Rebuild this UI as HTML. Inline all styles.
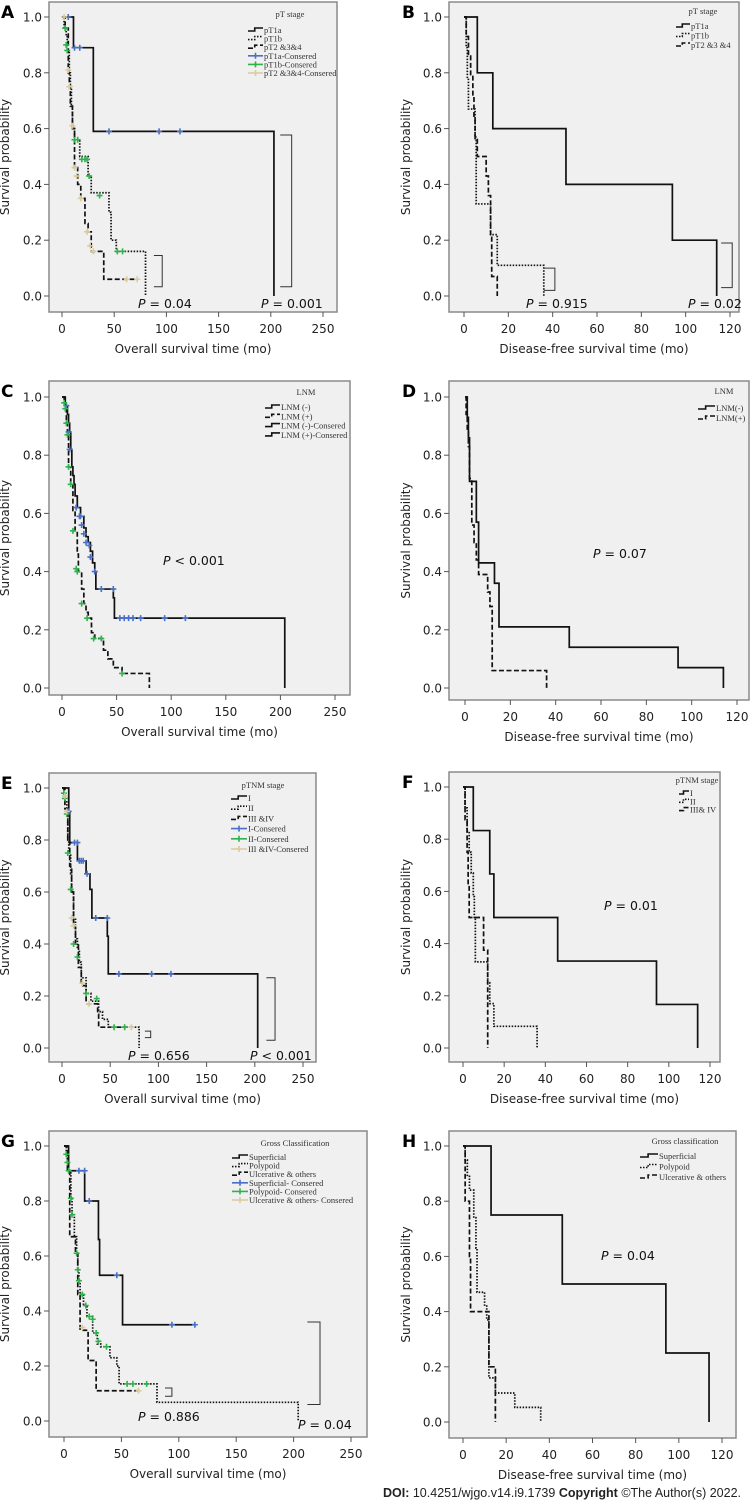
<!DOCTYPE html>
<html><head><meta charset="utf-8"><style>
html,body{margin:0;padding:0;background:#fff;}
svg{display:block;font-family:"DejaVu Sans","Liberation Sans",sans-serif;}
.lg{font-family:"Liberation Serif",serif;font-size:8.5px;fill:#333;}
</style></head><body>
<svg id="fig" width="753" height="1500" viewBox="0 0 753 1500" xmlns="http://www.w3.org/2000/svg"></svg>
<script>
// ---------- data ----------
const xTicksOS = [0,50,100,150,200,250];
const xTicksDFS = [0,20,40,60,80,100,120];
const yTicks = [0,0.2,0.4,0.6,0.8,1.0];

const A_pT1a = [[0,1],[11,0.89],[30,0.59],[203,0]];
const A_pT1b = [[0,1],[2,0.96],[4,0.93],[5,0.88],[7,0.80],[8,0.75],[9,0.68],[10,0.60],[12,0.56],[17,0.50],[25,0.43],[28,0.37],[45,0.30],[47,0.20],[52,0.16],[80,0]];
const A_pT2 = [[0,1],[3,0.96],[6,0.80],[7,0.75],[8,0.68],[10,0.60],[12,0.46],[15,0.40],[18,0.35],[22,0.26],[25,0.23],[28,0.16],[38,0.16],[40,0.06],[72,0.06]];
const A_cens1 = [[6,1],[12,0.89],[17,0.89],[45,0.59],[93,0.59],[113,0.59]];
const A_cens2 = [[3,0.96],[4,0.90],[5,0.88],[12,0.56],[15,0.56],[19,0.49],[22,0.49],[24,0.49],[26,0.43],[36,0.36],[53,0.16],[58,0.16]];
const A_cens3 = [[2,1],[6,0.81],[7,0.75],[10,0.61],[12,0.46],[14,0.43],[18,0.35],[24,0.23],[27,0.18],[30,0.16],[62,0.06],[72,0.06]];

const B_pT1a = [[0,1],[6,0.8],[13,0.6],[46,0.4],[94,0.2],[114,0]];
const B_pT1b = [[0,1],[1,0.89],[1.5,0.78],[2,0.67],[5,0.56],[5.5,0.33],[12,0.22],[15,0.11],[36,0]];
const B_pT2 = [[0,1],[1,0.93],[2,0.86],[3,0.79],[4,0.71],[4.5,0.64],[5,0.57],[6,0.5],[10,0.43],[11,0.36],[12,0.21],[12.5,0.07],[15,0]];

const C_neg = [[0,1],[3,0.97],[5,0.94],[6,0.91],[7,0.88],[8,0.82],[9,0.76],[10,0.73],[11,0.70],[12,0.66],[14,0.62],[17,0.59],[20,0.55],[22,0.52],[24,0.50],[26,0.47],[28,0.43],[30,0.40],[31,0.34],[47,0.31],[48,0.24],[204,0]];
const C_pos = [[0,1],[2,0.98],[3,0.96],[4,0.91],[5,0.87],[6,0.76],[8,0.70],[10,0.61],[12,0.54],[14,0.46],[15,0.40],[18,0.34],[20,0.29],[22,0.26],[24,0.24],[27,0.19],[30,0.17],[38,0.13],[42,0.10],[47,0.07],[55,0.05],[80,0]];
const C_censNeg = [[4,0.97],[6,0.88],[7,0.82],[13,0.62],[16,0.59],[17,0.59],[18,0.56],[20,0.53],[22,0.50],[25,0.49],[26,0.45],[30,0.40],[36,0.34],[47,0.34],[53,0.24],[57,0.24],[61,0.24],[65,0.24],[72,0.24],[94,0.24],[113,0.24]];
const C_censPos = [[2,0.98],[3,0.96],[4,0.91],[5,0.87],[6,0.76],[8,0.70],[10,0.54],[13,0.41],[14,0.40],[18,0.29],[23,0.24],[29,0.17],[36,0.17],[55,0.05]];

const D_neg = [[0,1],[1,0.93],[1.5,0.86],[2,0.71],[5,0.57],[6,0.43],[13,0.36],[15,0.21],[46,0.14],[94,0.07],[114,0]];
const D_pos = [[0,1],[0.5,0.94],[1,0.89],[1.5,0.83],[2,0.72],[3,0.56],[4,0.50],[5,0.44],[6,0.39],[10,0.33],[11,0.28],[12,0.06],[36,0]];

const E_I = [[0,1],[7,0.91],[8,0.79],[16,0.72],[25,0.67],[29,0.61],[31,0.50],[47,0.43],[48,0.285],[203,0]];
const E_II = [[0,1],[2,0.97],[3,0.95],[5,0.90],[6,0.80],[7,0.75],[9,0.67],[10,0.60],[12,0.50],[14,0.42],[16,0.38],[18,0.33],[20,0.27],[25,0.21],[30,0.18],[38,0.14],[42,0.11],[48,0.08],[80,0]];
const E_III = [[0,1],[3,0.92],[6,0.80],[8,0.70],[10,0.60],[12,0.47],[14,0.40],[17,0.31],[20,0.24],[25,0.17],[37,0.13],[38,0.08],[72,0.08]];
const E_censI = [[7,0.91],[13,0.79],[16,0.79],[18,0.72],[20,0.72],[22,0.72],[26,0.67],[35,0.50],[47,0.50],[59,0.285],[93,0.285],[113,0.285]];
const E_censII = [[2,0.98],[3,0.96],[5,0.90],[6,0.75],[9,0.61],[12,0.40],[16,0.35],[25,0.21],[36,0.19],[54,0.08],[65,0.08]];
const E_censIII = [[3,0.97],[5,0.91],[10,0.50],[12,0.47],[21,0.25],[28,0.17],[72,0.08]];

const F_I = [[0,1],[5,0.833],[13,0.667],[15,0.5],[46,0.333],[94,0.167],[114,0]];
const F_II = [[0,1],[1,0.92],[2,0.83],[3,0.75],[4,0.67],[5,0.58],[5.5,0.5],[6,0.33],[12,0.25],[13,0.17],[15,0.083],[36,0]];
const F_III = [[0,1],[1,0.875],[2,0.75],[2.5,0.625],[3,0.5],[10,0.375],[12,0]];

const G_sup = [[0,1],[4,0.91],[18,0.80],[30,0.66],[31,0.53],[51,0.35],[114,0.35]];
const G_pol = [[0,1],[2,0.97],[3,0.94],[4,0.91],[6,0.81],[7,0.75],[9,0.67],[11,0.61],[12,0.55],[13,0.51],[14,0.46],[17,0.42],[20,0.38],[25,0.32],[29,0.28],[32,0.27],[40,0.23],[46,0.20],[48,0.135],[81,0.068],[204,0]];
const G_ulc = [[0,1],[3,0.91],[5,0.67],[10,0.61],[12,0.46],[14,0.33],[20,0.33],[21,0.22],[28,0.11],[65,0.11]];
const G_censSup = [[13,0.91],[18,0.91],[22,0.80],[46,0.53],[94,0.35],[114,0.35]];
const G_censPol = [[2,0.97],[3,0.94],[4,0.91],[6,0.81],[7,0.75],[11,0.61],[12,0.55],[13,0.51],[16,0.46],[19,0.42],[22,0.38],[25,0.37],[28,0.32],[30,0.29],[37,0.27],[55,0.135],[60,0.135],[72,0.135]];
const G_censUlc = [[16,0.34],[65,0.11]];

const H_sup = [[0,1],[13,0.75],[46,0.5],[94,0.25],[114,0]];
const H_pol = [[0,1],[1,0.95],[2,0.89],[3,0.84],[5,0.74],[6,0.63],[6.5,0.47],[10,0.42],[11,0.37],[12,0.16],[15,0.105],[24,0.053],[36,0]];
const H_ulc = [[0,1],[1,0.8],[3,0.6],[3.5,0.4],[12,0.2],[15,0]];

// ---------- drawing ----------
const svg = document.getElementById('fig');
const NS = 'http://www.w3.org/2000/svg';
function mk(tag, attrs, parent){
  const e = document.createElementNS(NS, tag);
  for (const k in attrs) e.setAttribute(k, attrs[k]);
  (parent||svg).appendChild(e);
  return e;
}
const STY = {solid:'', dot:'1.5,1.5', dash:'5,2.5'};
const COL = {blue:'#4a6fc4', green:'#2fb24c', tan:'#d9cb9c'};
const FS = 12;

function panel(p){
  const g = mk('g', {});
  
  
  const xs = v => p.x0 + (p.x1 - p.x0) * v / p.xmax;
  const ys = v => p.y0 + (p.y1 - p.y0) * v;
  const fr = mk('rect', {x:p.fx1, y:p.fy1, width:p.fx2-p.fx1, height:p.fy2-p.fy1, fill:'#f0f0f0', stroke:'#8a8a8a', 'stroke-width':1.5}, g);
  
  
  const L = mk('text', {x:p.lx, y:p.fy1+16, 'font-size':17, 'font-weight':'bold', fill:'#000'}, g);
  L.textContent = p.id;
  
  
  yTicks.forEach(t => {
    mk('line', {x1:p.fx1-5, x2:p.fx1, y1:ys(t), y2:ys(t), stroke:'#555', 'stroke-width':1}, g);
    const tx = mk('text', {x:p.fx1-7, y:ys(t)+4.5, 'font-size':FS, 'text-anchor':'end', fill:'#222'}, g);
    tx.textContent = t.toFixed(1);
    
    
  });
  p.xt.forEach(t => {
    mk('line', {x1:xs(t), x2:xs(t), y1:p.fy2, y2:p.fy2+5, stroke:'#555', 'stroke-width':1}, g);
    const tx = mk('text', {x:xs(t), y:p.fy2+21, 'font-size':FS, 'text-anchor':'middle', fill:'#222'}, g);
    tx.textContent = t;
    
    
  });
  const xt = mk('text', {x:(p.fx1+p.fx2)/2, y:p.fy2+41, 'font-size':FS, 'text-anchor':'middle', fill:'#222'}, g);
  xt.textContent = p.xtitle;
  
  
  const cy = (p.fy1+p.fy2)/2;
  const yt = mk('text', {x:p.ytx, y:cy, 'font-size':FS, 'text-anchor':'middle', fill:'#222', transform:`rotate(-90 ${p.ytx} ${cy})`}, g);
  yt.textContent = 'Survival probability';
  
  
  p.curves.forEach(c => {
    let d = `M${xs(c.d[0][0])},${ys(c.d[0][1])}`;
    for (let i=1;i<c.d.length;i++){ d += ` H${xs(c.d[i][0])} V${ys(c.d[i][1])}`; }
    const path = mk('path', {d, fill:'none', stroke:'#111', 'stroke-width':1.7, 'stroke-dasharray':STY[c.s]}, g);
    
    
  });
  (p.cens||[]).forEach(c => {
    c.d.forEach(pt => {
      const X = xs(pt[0]), Y = ys(pt[1]);
      const m = mk('path', {d:`M${X-3},${Y} H${X+3} M${X},${Y-3} V${Y+3}`, stroke:COL[c.c], 'stroke-width':1.6}, g);
      
      
    });
  });
  (p.br||[]).forEach(b => {
    const x1 = xs(b[0]), x2 = xs(b[1]);
    const br = mk('path', {d:`M${x1},${ys(b[2])} H${x2} V${ys(b[3])} H${x1}`, fill:'none', stroke:'#333', 'stroke-width':1}, g);
    
    
  });
  (p.pv||[]).forEach(v => {
    const t = mk('text', {x:v[0], y:v[1], 'font-size':12.5, fill:'#111'}, g);
    const i = mk('tspan', {'font-style':'italic'}, t); i.textContent = 'P';
    const r = mk('tspan', {}, t); r.textContent = v[2];
    
    
  });
  const lg = mk('g', {}, g);
  
  
  const lt = mk('text', {x:p.leg.tx, y:p.leg.ty, class:'lg', 'text-anchor':'middle', 'font-size':p.leg.tfs||8.5}, lg);
  lt.textContent = p.leg.title;
  
  
  p.leg.items.forEach((it,k) => {
    const y = p.leg.y0 + k*p.leg.dy;
    const ix = p.leg.ix, w = p.leg.iw;
    const e = mk('g', {}, lg);
    
    
    if (it.c) {
      mk('path', {d:`M${ix},${y} H${ix+w} M${ix+w/2},${y-3} V${y+3}`, stroke:COL[it.c], 'stroke-width':1.6}, e);
    } else {
      mk('path', {d:`M${ix},${y+1} H${ix+w*0.45} V${y-2} H${ix+w}`, fill:'none', stroke:'#111', 'stroke-width':1.6, 'stroke-dasharray':STY[it.s]}, e);
    }
    const t = mk('text', {x:ix+w+1, y:y+3, class:'lg'}, e);
    t.textContent = it.t;
  });
}

const OS = 'Overall survival time (mo)', DFS = 'Disease-free survival time (mo)';
const pTleg = [{s:'solid',t:'pT1a'},{s:'dot',t:'pT1b'},{s:'dash',t:'pT2 &3&4'},{c:'blue',t:'pT1a-Consered'},{c:'green',t:'pT1b-Consered'},{c:'tan',t:'pT2 &3&4-Consered'}];

panel({id:'A', fx1:49,fy1:2,fx2:337,fy2:312, x0:62,x1:323,xmax:250, y1:17,y0:296, xt:xTicksOS, xtitle:OS, lx:1, ytx:9,
  curves:[{n:'pt1a',s:'solid',d:A_pT1a},{n:'pt1b',s:'dot',d:A_pT1b},{n:'pt2-3-4',s:'dash',d:A_pT2}],
  cens:[{c:'blue',d:A_cens1},{c:'green',d:A_cens2},{c:'tan',d:A_cens3}],
  br:[[88,96,0.145,0.033],[209,220,0.577,0.033]],
  pv:[[138,308,' = 0.04'],[261,308,' = 0.001']],
  leg:{title:'pT stage', tx:290, ty:17, tfs:9.5, y0:30, dy:8.6, ix:248, iw:15, items:pTleg}});

panel({id:'B', fx1:449,fy1:2,fx2:739,fy2:312, x0:464,x1:730,xmax:120, y1:17,y0:296, xt:xTicksDFS, xtitle:DFS, lx:402, ytx:410,
  curves:[{n:'pt1a',s:'solid',d:B_pT1a},{n:'pt1b',s:'dot',d:B_pT1b},{n:'pt2-3-4',s:'dash',d:B_pT2}],
  br:[[36,41,0.10,0.02],[116,121,0.19,0.03]],
  pv:[[526,308,' = 0.915'],[688,308,' = 0.02']],
  leg:{title:'pT stage', tx:703, ty:14, y0:26, dy:9.5, ix:676, iw:14, items:[{s:'solid',t:'pT1a'},{s:'dot',t:'pT1b'},{s:'dash',t:'pT2 &3 &4'}]}});

panel({id:'C', fx1:49,fy1:381,fx2:350,fy2:695, x0:62,x1:335,xmax:250, y1:397,y0:688, xt:xTicksOS, xtitle:OS, lx:1, ytx:9,
  curves:[{n:'lnm-negative',s:'solid',d:C_neg},{n:'lnm-positive',s:'dash',d:C_pos}],
  cens:[{c:'blue',d:C_censNeg},{c:'green',d:C_censPos}],
  pv:[[163,565,' < 0.001']],
  leg:{title:'LNM', tx:306, ty:395, tfs:9.5, y0:407, dy:9.3, ix:265, iw:15, items:[{s:'solid',t:'LNM (-)'},{s:'dash',t:'LNM (+)'},{s:'solid',t:'LNM (-)-Consered'},{s:'solid',t:'LNM (+)-Consered'}]}});

panel({id:'D', fx1:449,fy1:381,fx2:749,fy2:700, x0:465,x1:737,xmax:120, y1:397,y0:688, xt:xTicksDFS, xtitle:DFS, lx:402, ytx:410,
  curves:[{n:'lnm-negative',s:'solid',d:D_neg},{n:'lnm-positive',s:'dash',d:D_pos}],
  pv:[[593,558,' = 0.07']],
  leg:{title:'LNM', tx:724, ty:394, y0:408, dy:10, ix:698, iw:17, items:[{s:'solid',t:'LNM(-)'},{s:'dash',t:'LNM(+)'}]}});

panel({id:'E', fx1:49,fy1:773,fx2:316,fy2:1062, x0:62,x1:303,xmax:250, y1:788,y0:1048, xt:xTicksOS, xtitle:OS, lx:1, ytx:9,
  curves:[{n:'stage-i',s:'solid',d:E_I},{n:'stage-ii',s:'dot',d:E_II},{n:'stage-iii-iv',s:'dash',d:E_III}],
  cens:[{c:'blue',d:E_censI},{c:'green',d:E_censII},{c:'tan',d:E_censIII}],
  br:[[86,92,0.065,0.04],[212,221,0.27,0.03]],
  pv:[[128,1060,' = 0.656'],[250,1060,' < 0.001']],
  leg:{title:'pTNM stage', tx:263, ty:788, y0:798, dy:10.2, ix:231, iw:16, items:[{s:'solid',t:'I'},{s:'dot',t:'II'},{s:'dash',t:'III &IV'},{c:'blue',t:'I-Consered'},{c:'green',t:'II-Consered'},{c:'tan',t:'III &IV-Consered'}]}});

panel({id:'F', fx1:449,fy1:772,fx2:720,fy2:1062, x0:463,x1:710,xmax:120, y1:787,y0:1048, xt:xTicksDFS, xtitle:DFS, lx:402, ytx:410,
  curves:[{n:'stage-i',s:'solid',d:F_I},{n:'stage-ii',s:'dot',d:F_II},{n:'stage-iii-iv',s:'dash',d:F_III}],
  pv:[[604,910,' = 0.01']],
  leg:{title:'pTNM stage', tx:697, ty:783, y0:793, dy:8.3, ix:679, iw:10, items:[{s:'solid',t:'I'},{s:'dot',t:'II'},{s:'dash',t:'III& IV'}]}});

panel({id:'G', fx1:49,fy1:1131,fx2:367,fy2:1437, x0:64,x1:351,xmax:250, y1:1146,y0:1421, xt:xTicksOS, xtitle:OS, lx:1, ytx:9,
  curves:[{n:'superficial',s:'solid',d:G_sup},{n:'polypoid',s:'dot',d:G_pol},{n:'ulcerative',s:'dash',d:G_ulc}],
  cens:[{c:'blue',d:G_censSup},{c:'green',d:G_censPol},{c:'tan',d:G_censUlc}],
  br:[[88,94,0.12,0.09],[212,223,0.36,0.06]],
  pv:[[138,1421,' = 0.886'],[298,1429,' = 0.04']],
  leg:{title:'Gross Classification', tx:295, ty:1146, tfs:10, y0:1157, dy:8.6, ix:232, iw:16, items:[{s:'solid',t:'Superficial'},{s:'dot',t:'Polypoid'},{s:'dash',t:'Ulcerative & others'},{c:'blue',t:'Superficial- Consered'},{c:'green',t:'Polypoid- Consered'},{c:'tan',t:'Ulcerative & others- Consered'}]}});

panel({id:'H', fx1:449,fy1:1131,fx2:736,fy2:1438, x0:463,x1:722,xmax:120, y1:1146,y0:1422, xt:xTicksDFS, xtitle:DFS, lx:402, ytx:410,
  curves:[{n:'superficial',s:'solid',d:H_sup},{n:'polypoid',s:'dot',d:H_pol},{n:'ulcerative',s:'dash',d:H_ulc}],
  pv:[[601,1260,' = 0.04']],
  leg:{title:'Gross classification', tx:685, ty:1144, y0:1156, dy:10.5, ix:640, iw:18, items:[{s:'solid',t:'Superficial'},{s:'dot',t:'Polypoid'},{s:'dash',t:'Ulcerative & others'}]}});

const ft = mk('text', {x:383, y:1497, 'font-size':12.5, fill:'#222', 'font-family':'Liberation Sans, sans-serif'});


const f1 = mk('tspan', {'font-weight':'bold'}, ft); f1.textContent = 'DOI: ';
const f2 = mk('tspan', {}, ft); f2.textContent = '10.4251/wjgo.v14.i9.1739  ';
const f3 = mk('tspan', {'font-weight':'bold'}, ft); f3.textContent = 'Copyright ';
const f4 = mk('tspan', {}, ft); f4.textContent = '©The Author(s) 2022.';
</script>
</body></html>
